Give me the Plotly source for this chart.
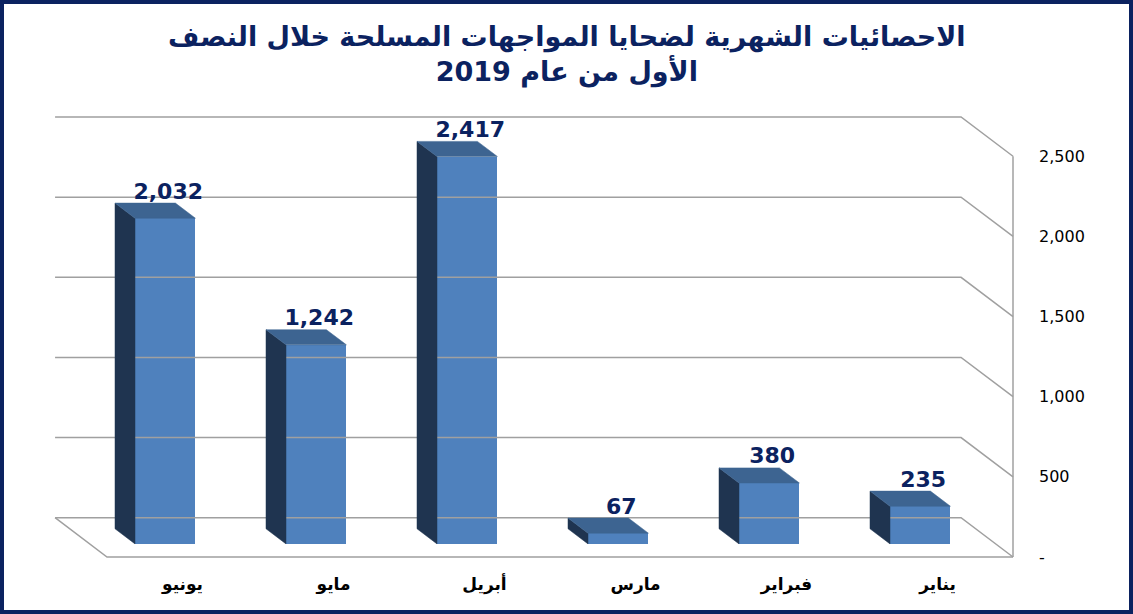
import plotly.graph_objects as go

# data (January .. June 2019)
months = ["يناير", "فبراير", "مارس", "أبريل", "مايو", "يونيو"]
victims = [235, 380, 67, 2417, 1242, 2032]
y_ticks = [0, 500, 1000, 1500, 2000, 2500]
y_tick_text = ["-", "500", "1,000", "1,500", "2,000", "2,500"]

title = "الاحصائيات الشهرية لضحايا المواجهات المسلحة خلال النصف<br>الأول من عام 2019"

# fake 3d: depth shift from the front plane to the back wall, in axis units
DX = 0.344
DY = 245
BAR_FRONT = 0.333   # fraction of depth behind the front edge
BAR_BACK = 0.718
BAR_W = 0.4

FRONT = "#4F81BD"
SIDE = "#1F3450"
TOP = "#3D6491"
NAVY = "#0B2260"
GRID = "#A0A0A0"

n = len(months)
pos = [n - 1 - i for i in range(n)]   # january on the right
x_left, x_right = -0.5, n - 0.5

fig = go.Figure()

# back wall, right side wall and floor outline
wx, wy = [], []
for g in y_ticks:
    wx += [x_left - DX, x_right - DX, x_right, None]
    wy += [g + DY, g + DY, g, None]
wx += [x_left - DX, x_left, x_right, None, x_right, x_right]
wy += [DY, 0, 0, None, 0, y_ticks[-1]]
fig.add_trace(go.Scatter(x=wx, y=wy, mode="lines", line=dict(color=GRID, width=1.5),
                         hoverinfo="skip", showlegend=False))

fdx, fdy = -DX * BAR_FRONT, DY * BAR_FRONT
bdx, bdy = -DX * (BAR_BACK - BAR_FRONT), DY * (BAR_BACK - BAR_FRONT)

for p, v in zip(pos, victims):
    x0 = p + fdx - BAR_W / 2
    x1 = p + fdx + BAR_W / 2
    b = fdy
    t = fdy + v
    # left side face
    fig.add_trace(go.Scatter(x=[x0, x0, x0 + bdx, x0 + bdx, x0], y=[b, t, t + bdy, b + bdy, b],
                             mode="lines", fill="toself", fillcolor=SIDE, line=dict(color=SIDE, width=0.5),
                             hoverinfo="skip", showlegend=False))
    # top face
    fig.add_trace(go.Scatter(x=[x0, x1, x1 + bdx, x0 + bdx, x0], y=[t, t, t + bdy, t + bdy, t],
                             mode="lines", fill="toself", fillcolor=TOP, line=dict(color=TOP, width=0.5),
                             hoverinfo="skip", showlegend=False))

# front faces
fig.add_trace(go.Bar(x=[p + fdx for p in pos], y=victims, base=[fdy] * n, width=BAR_W,
                     marker=dict(color=FRONT, line=dict(width=0)), showlegend=False))

# value labels
fig.add_trace(go.Scatter(x=[p + fdx + 0.02 for p in pos], y=[fdy + v + 157 for v in victims],
                         mode="text", text=[f"{v:,}" for v in victims], textposition="middle center",
                         textfont=dict(family="DejaVu Sans", size=22, color=NAVY, weight="bold"),
                         cliponaxis=False, hoverinfo="skip", showlegend=False))

L, R, T, B = 50, 117, 116, 54
W, H = 1133, 614
pw, ph = W - L - R, H - T - B
px_x = (x_right - x_left) / 906.0
px_y = y_ticks[-1] / 398.0

fig.update_layout(
    width=W, height=H,
    margin=dict(l=L, r=R, t=T, b=B),
    paper_bgcolor="white", plot_bgcolor="white",
    template="none",
    bargap=0,
    annotations=[dict(text="<b>" + title + "</b>", xref="paper", yref="paper",
                      x=(567 - L) / pw, y=(H - B - 55) / ph, xanchor="center", yanchor="middle",
                      showarrow=False, align="center",
                      font=dict(family="DejaVu Sans", size=27, color=NAVY))],
    xaxis=dict(range=[x_left - 57 * px_x, x_right + 3 * px_x], tickvals=pos, ticktext=months,
               showgrid=False, zeroline=False, showline=False, ticks="", automargin=False,
               ticklabelstandoff=12,
               tickfont=dict(family="DejaVu Sans", size=17, color="black", weight="bold")),
    yaxis=dict(range=[-3 * px_y, 441 * px_y - 3 * px_y], side="right", tickvals=y_ticks, ticktext=y_tick_text,
               showgrid=False, zeroline=False, showline=False, ticks="", automargin=False,
               ticklabelstandoff=22,
               tickfont=dict(family="DejaVu Sans", size=16, color="black")),
    shapes=[dict(type="rect", xref="paper", yref="paper",
                 x0=(2 - L) / pw, x1=(W - 2 - L) / pw, y0=-(B - 2) / ph, y1=(H - B - 2) / ph,
                 line=dict(color=NAVY, width=4), fillcolor="rgba(0,0,0,0)", layer="above")],
)

# page body has a default margin; drop it so the figure sits in the window corner
fig.write_html("out.html", config={"displayModeBar": False},
               post_script="document.body.style.margin='0';")
